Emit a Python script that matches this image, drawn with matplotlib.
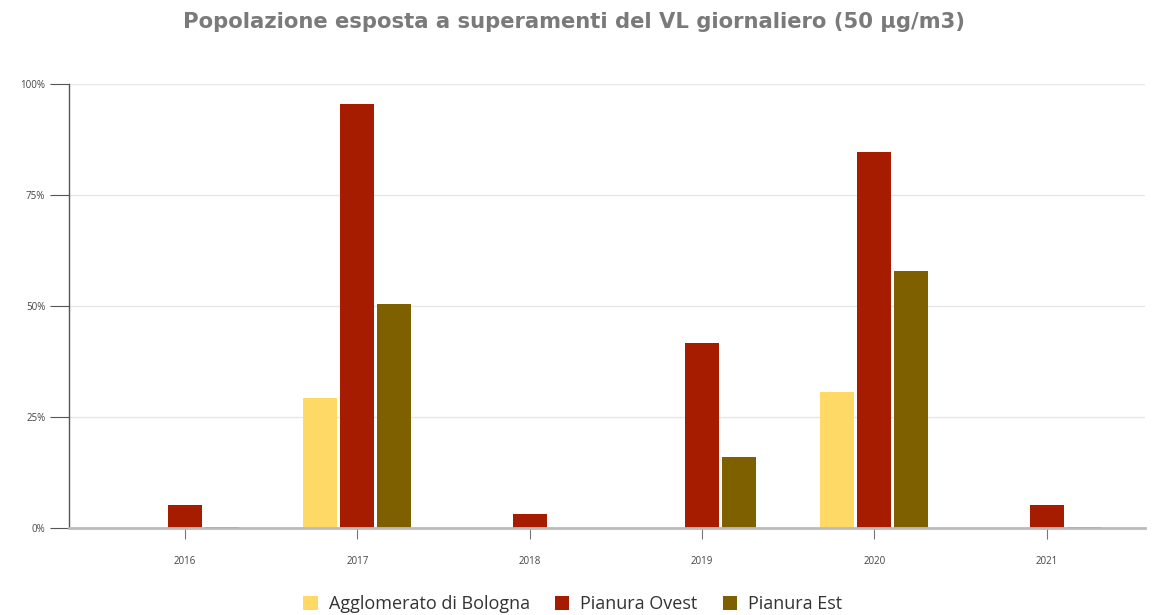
import numpy as np
import matplotlib.pyplot as plt
from matplotlib.ticker import PercentFormatter

plt.rcParams['font.family'] = ['Open Sans', 'DejaVu Sans']

years = ['2016', '2017', '2018', '2019', '2020', '2021']
series = ['Agglomerato di Bologna', 'Pianura Ovest', 'Pianura Est']
bologna = [0, 29.3, 0, 0, 30.6, 0]
ovest = [5.2, 95.5, 3.2, 41.7, 84.7, 5.2]
est = [0.3, 50.5, 0, 16.0, 57.9, 0.3]
colors = ['#ffd966', '#a61c00', '#7f6000']

fig = plt.figure(figsize=(11.64, 6.15), dpi=100)
ax = fig.add_axes([69 / 1164, 1 - 528 / 615, (1145 - 69) / 1164, 444 / 615])

x = np.arange(len(years))
w = 0.197
off = 0.215
for i, (vals, c) in enumerate(zip([bologna, ovest, est], colors)):
    ax.bar(x + (i - 1) * off, vals, width=w, color=c, label=series[i], zorder=3)

ax.set_xlim(-0.673, 5.57)
ax.set_ylim(0, 100)
ax.set_yticks([0, 25, 50, 75, 100])
ax.yaxis.set_major_formatter(PercentFormatter(decimals=0))
ax.set_xticks(x)
ax.set_xticklabels(years)
ax.grid(axis='y', color='#e6e6e6', linewidth=1, zorder=0)

for s in ['top', 'right']:
    ax.spines[s].set_visible(False)
ax.spines['left'].set_color('#555555')
ax.spines['left'].set_linewidth(1)
ax.spines['bottom'].set_color('#bbbbbb')
ax.spines['bottom'].set_linewidth(2)
ax.spines['bottom'].set_zorder(4)
ax.tick_params(axis='y', length=14, color='#555555', labelsize=7, labelcolor='#444444', pad=3)
ax.tick_params(axis='x', length=8, color='#777777', labelsize=7, labelcolor='#444444', pad=12)

fig.text(0.493, 1 - 22 / 615, 'Popolazione esposta a superamenti del VL giornaliero (50 µg/m3)',
         ha='center', va='center', fontsize=15.2, fontweight='bold', color='#7a7a7a',
         family='DejaVu Sans')

fig.legend(loc='center', bbox_to_anchor=(0.492, 1 - 604 / 615), ncol=3, frameon=False,
           fontsize=13, handlelength=0.8, handleheight=0.8, handletextpad=0.6,
           columnspacing=1.4, labelcolor='#333333')

fig.savefig('out.png', dpi=100)
